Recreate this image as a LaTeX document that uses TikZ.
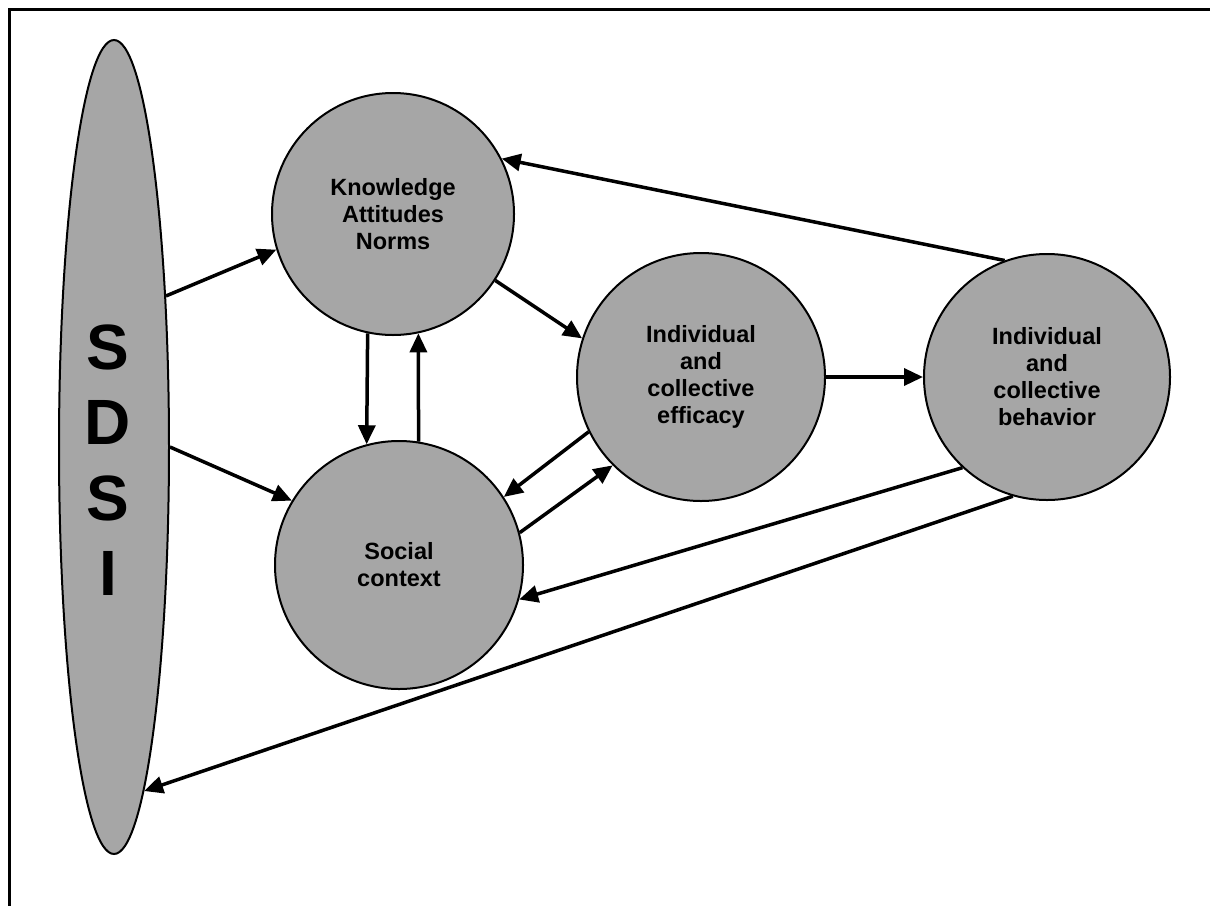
\documentclass[tikz,border=0pt]{standalone}
\usepackage{fontspec}
\setmainfont{Liberation Sans}
\usetikzlibrary{arrows.meta}
\usetikzlibrary{shapes.geometric}
\definecolor{factorgray}{RGB}{166,166,166}
\tikzset{
        factor/.style={circle, draw, fill=factorgray, line width=2pt, inner sep=0pt, align=center,
                font=\bfseries\fontsize{23.5}{27}\selectfont},
        flow/.style={-{Triangle[length=19pt,width=17pt]}, line width=3.5pt},
}

\begin{document}
\begin{tikzpicture}[x=1pt,y=-1pt]
        \useasboundingbox (0,0) rectangle (1210,905);
        \clip (0,0) rectangle (1210,905);
        \draw[line width=3pt] (9.5,9.5) rectangle (1230,930);
        \node (sdsi) [ellipse, draw, fill=factorgray, line width=2pt, minimum width=110pt, minimum height=814pt, inner sep=0pt] at (114,447) {};
        \node (sdsilabel) [align=center, font=\bfseries\fontsize{64}{75.5}\selectfont] at ([xshift=-6pt,yshift=-13pt]sdsi.center) {S\\D\\S\\I};
        \node (know) [factor, minimum size=242pt] at (393,214) {Knowledge\\Attitudes\\Norms};
        \node (soc) [factor, minimum size=248pt] at (399,565) {Social\\context};
        \node (eff) [factor, minimum size=248pt] at (701,377) {Individual\\and\\collective\\efficacy};
        \node (beh) [factor, minimum size=246pt] at (1047,377) {Individual\\and\\collective\\behavior};
        \draw[flow] (sdsi.71) -- (know.197);
        \draw[flow] (sdsi.east) -- (soc.149);
        \draw[flow] (know.258) -- (soc.105);
        \draw[flow] (soc.81) -- (know.282);
        \draw[flow] (know.327) -- (eff.162);
        \draw[flow] (eff.206) -- (soc.33);
        \draw[flow] (soc.15) -- (eff.225);
        \draw[flow] (eff.east) -- (beh.west);
        \draw[flow] (beh.110) -- (know.27);
        \draw[flow] (beh.227) -- (soc.344);
        \draw[flow] (beh.254) -- (sdsi.275);
\end{tikzpicture}
\end{document}
